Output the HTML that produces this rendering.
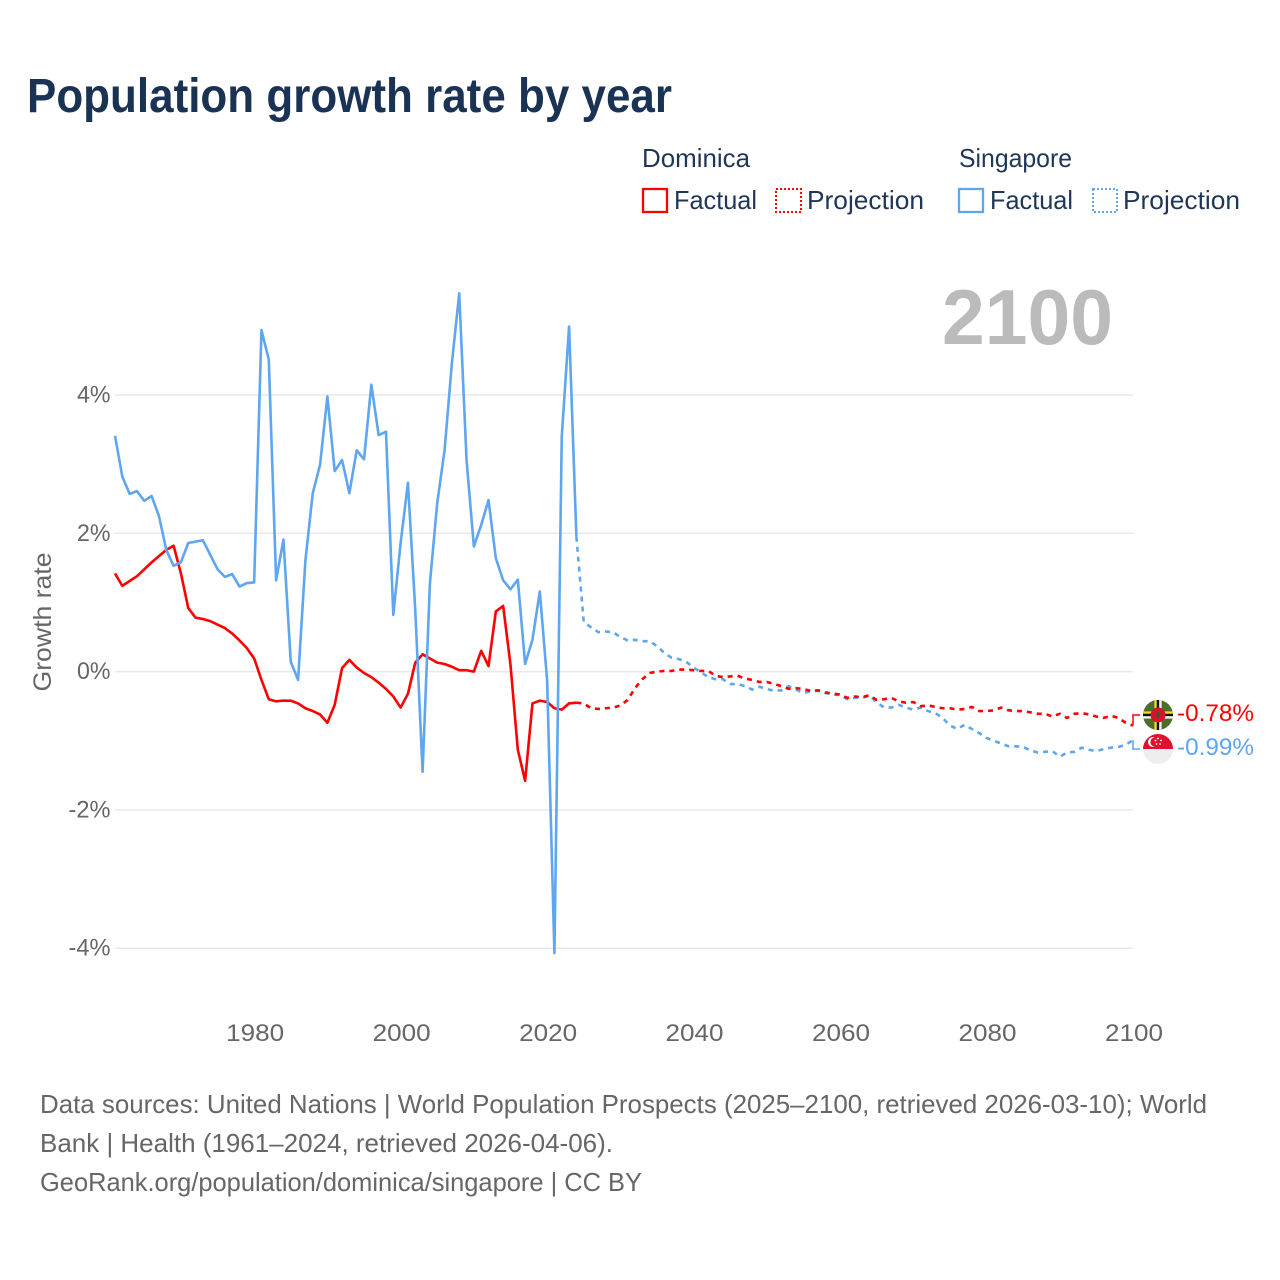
<!DOCTYPE html>
<html lang="en">
<head>
<meta charset="utf-8">
<title>Population growth rate by year</title>
<style>
html,body{margin:0;padding:0;background:#fff;width:1280px;height:1280px;overflow:hidden}
svg{display:block;font-family:"Liberation Sans",sans-serif}
</style>
</head>
<body>
<svg id="chart" xmlns="http://www.w3.org/2000/svg" width="1280" height="1280" viewBox="0 0 1280 1280">
  <defs>
    <clipPath id="flag-clip-dm"><circle cx="1158" cy="715" r="15"/></clipPath>
    <clipPath id="flag-clip-sg"><circle cx="1158" cy="749" r="15"/></clipPath>
  </defs>
  <text x="27" y="112" font-size="48" font-weight="700" fill="#1a3354" textLength="645" lengthAdjust="spacingAndGlyphs">Population growth rate by year</text>

  <g>
    <text x="642" y="167" font-size="26" fill="#1f3656" textLength="108" lengthAdjust="spacingAndGlyphs">Dominica</text>
    <rect x="643" y="189" width="24" height="23" fill="none" stroke="#ff0000" stroke-width="2.3"/>
    <text x="674" y="209" font-size="26" fill="#1f3656" textLength="83" lengthAdjust="spacingAndGlyphs">Factual</text>
    <rect x="776" y="189" width="25" height="23" fill="none" stroke="#ff0000" stroke-width="2" stroke-dasharray="2 2"/>
    <text x="807" y="209" font-size="26" fill="#1f3656" textLength="117" lengthAdjust="spacingAndGlyphs">Projection</text>
    <text x="959" y="167" font-size="26" fill="#1f3656" textLength="113" lengthAdjust="spacingAndGlyphs">Singapore</text>
    <rect x="959" y="189" width="24" height="23" fill="none" stroke="#5ea6ef" stroke-width="2.3"/>
    <text x="990" y="209" font-size="26" fill="#1f3656" textLength="83" lengthAdjust="spacingAndGlyphs">Factual</text>
    <rect x="1093" y="189" width="24" height="23" fill="none" stroke="#5ea6ef" stroke-width="2" stroke-dasharray="2 2"/>
    <text x="1123" y="209" font-size="26" fill="#1f3656" textLength="117" lengthAdjust="spacingAndGlyphs">Projection</text>
  </g>

  <text x="942" y="344" font-size="78" font-weight="700" fill="#bbbbbb" textLength="171" lengthAdjust="spacingAndGlyphs">2100</text>

  <text transform="translate(51,622) rotate(-90)" text-anchor="middle" font-size="25" fill="#666666" textLength="139" lengthAdjust="spacingAndGlyphs">Growth rate</text>

  <g id="grid"></g>
  <g id="y-ticks"></g>
  <g id="x-ticks"></g>
  <g id="series"></g>

  <g clip-path="url(#flag-clip-dm)">
    <rect x="1143" y="700" width="30" height="30" fill="#4d6d2a"/>
    <rect x="1154.4" y="700" width="2.4" height="30" fill="#f6d92c"/>
    <rect x="1156.8" y="700" width="2.4" height="30" fill="#111111"/>
    <rect x="1159.2" y="700" width="2.4" height="30" fill="#f5f5f5"/>
    <rect x="1143" y="711.4" width="30" height="2.4" fill="#f6d92c"/>
    <rect x="1143" y="713.8" width="30" height="2.4" fill="#111111"/>
    <rect x="1143" y="716.2" width="30" height="2.4" fill="#f5f5f5"/>
    <circle cx="1158" cy="715" r="7.5" fill="#d8122c"/>
    <ellipse cx="1158" cy="715" rx="1.5" ry="3.6" fill="#3d5a25"/>
  </g>
  <g clip-path="url(#flag-clip-sg)">
    <rect x="1143" y="734" width="30" height="15" fill="#e0102f"/>
    <rect x="1143" y="749" width="30" height="15" fill="#eeeeee"/>
    <circle cx="1153" cy="742" r="5" fill="#ffffff"/>
    <circle cx="1155" cy="742" r="4.6" fill="#e0102f"/>
    <g fill="#ffffff">
      <circle cx="1158" cy="738.5" r="0.9"/>
      <circle cx="1161" cy="740.5" r="0.9"/>
      <circle cx="1160" cy="744" r="0.9"/>
      <circle cx="1156.5" cy="744" r="0.9"/>
      <circle cx="1155.5" cy="740.5" r="0.9"/>
    </g>
  </g>

  <text x="1177" y="721" font-size="24" fill="#ff0000" textLength="77" lengthAdjust="spacingAndGlyphs">-0.78%</text>
  <text x="1177" y="755" font-size="24" fill="#5ea6ef" textLength="77" lengthAdjust="spacingAndGlyphs">-0.99%</text>

  <g>
    <text x="40" y="1113" font-size="26" fill="#666666" textLength="1167" lengthAdjust="spacingAndGlyphs">Data sources: United Nations | World Population Prospects (2025–2100, retrieved 2026-03-10); World</text>
    <text x="40" y="1152" font-size="26" fill="#666666" textLength="573" lengthAdjust="spacingAndGlyphs">Bank | Health (1961–2024, retrieved 2026-04-06).</text>
    <text x="40" y="1191" font-size="26" fill="#666666" textLength="602" lengthAdjust="spacingAndGlyphs">GeoRank.org/population/dominica/singapore | CC BY</text>
  </g>
</svg>
<script>
const firstYear = 1961;
const lastFactualYear = 2024;
const lastYear = 2100;
const yTickValues = [4, 2, 0, -2, -4];
const yTickLabels = ["4%", "2%", "0%", "-2%", "-4%"];
const xTickYears = [1980, 2000, 2020, 2040, 2060, 2080, 2100];

const dominicaFactual = [1.42,1.24,1.31,1.38,1.48,1.58,1.67,1.76,1.82,1.42,0.92,0.78,0.76,0.73,0.68,0.63,0.55,0.45,0.34,0.19,-0.12,-0.40,-0.43,-0.42,-0.42,-0.46,-0.53,-0.57,-0.62,-0.74,-0.48,0.05,0.17,0.06,-0.02,-0.08,-0.16,-0.25,-0.36,-0.52,-0.32,0.13,0.25,0.19,0.13,0.11,0.07,0.02,0.02,0.00,0.30,0.08,0.87,0.95,0.10,-1.13,-1.58,-0.46,-0.42,-0.44,-0.53,-0.55,-0.46,-0.45];
const dominicaProjection = [-0.46,-0.53,-0.54,-0.53,-0.52,-0.49,-0.41,-0.24,-0.11,-0.02,0.00,0.01,0.01,0.03,0.03,0.02,0.01,0.01,-0.06,-0.08,-0.07,-0.06,-0.10,-0.12,-0.15,-0.15,-0.18,-0.21,-0.25,-0.24,-0.25,-0.28,-0.27,-0.30,-0.32,-0.33,-0.38,-0.36,-0.37,-0.34,-0.41,-0.40,-0.38,-0.43,-0.45,-0.44,-0.50,-0.49,-0.51,-0.53,-0.53,-0.55,-0.54,-0.51,-0.57,-0.57,-0.56,-0.52,-0.56,-0.57,-0.57,-0.59,-0.61,-0.61,-0.65,-0.61,-0.67,-0.61,-0.60,-0.62,-0.65,-0.67,-0.64,-0.67,-0.74,-0.78];
const singaporeFactual = [3.41,2.82,2.57,2.61,2.47,2.54,2.25,1.76,1.53,1.58,1.86,1.88,1.90,1.69,1.48,1.37,1.41,1.23,1.28,1.29,4.94,4.51,1.32,1.91,0.14,-0.12,1.61,2.58,2.99,3.98,2.90,3.06,2.58,3.20,3.07,4.15,3.42,3.47,0.82,1.86,2.73,0.89,-1.45,1.28,2.44,3.20,4.46,5.47,3.06,1.81,2.12,2.48,1.64,1.32,1.19,1.33,0.11,0.46,1.16,-0.12,-4.07,3.40,4.99,1.95];
const singaporeProjection = [0.72,0.64,0.57,0.58,0.57,0.50,0.45,0.46,0.44,0.44,0.37,0.27,0.20,0.18,0.14,0.06,-0.01,-0.08,-0.11,-0.11,-0.18,-0.18,-0.21,-0.26,-0.22,-0.25,-0.28,-0.27,-0.21,-0.26,-0.31,-0.28,-0.28,-0.31,-0.33,-0.34,-0.40,-0.38,-0.38,-0.35,-0.44,-0.52,-0.52,-0.48,-0.52,-0.55,-0.52,-0.57,-0.60,-0.67,-0.78,-0.83,-0.77,-0.83,-0.89,-0.96,-1.00,-1.04,-1.08,-1.08,-1.09,-1.14,-1.17,-1.16,-1.15,-1.23,-1.17,-1.16,-1.10,-1.13,-1.15,-1.12,-1.10,-1.09,-1.06,-0.99];

const SVGNS = "http://www.w3.org/2000/svg";
const plot = { left: 115, right: 1133, zero: 671.6, pxPerPercent: 69.15 };
function xScale(year) {
  return plot.left + (year - firstYear) * (plot.right - plot.left) / (lastYear - firstYear);
}
function yScale(value) {
  return plot.zero - value * plot.pxPerPercent;
}
function linePath(startYear, values) {
  return values.map(function (v, i) {
    return (i ? "L" : "M") + xScale(startYear + i).toFixed(2) + " " + yScale(v).toFixed(2);
  }).join("");
}

const gridGroup = document.getElementById("grid");
const yTickGroup = document.getElementById("y-ticks");
const xTickGroup = document.getElementById("x-ticks");
const seriesGroup = document.getElementById("series");

yTickValues.forEach(function (v, i) {
  const line = document.createElementNS(SVGNS, "line");
  line.setAttribute("x1", plot.left);
  line.setAttribute("x2", plot.right);
  line.setAttribute("y1", yScale(v));
  line.setAttribute("y2", yScale(v));
  line.setAttribute("stroke", "#e9e9e9");
  line.setAttribute("stroke-width", "1.5");
  
  
  gridGroup.appendChild(line);

  const label = document.createElementNS(SVGNS, "text");
  label.setAttribute("x", 110.5);
  label.setAttribute("y", yScale(v) + 7.5);
  label.setAttribute("text-anchor", "end");
  label.setAttribute("font-size", "24.5");
  label.setAttribute("textLength", yTickLabels[i].length === 2 ? "33.5" : "42");
  label.setAttribute("lengthAdjust", "spacingAndGlyphs");
  label.setAttribute("fill", "#666666");
  label.textContent = yTickLabels[i];
  
  
  yTickGroup.appendChild(label);
});

xTickYears.forEach(function (year) {
  const label = document.createElementNS(SVGNS, "text");
  label.setAttribute("x", xScale(year) + 1);
  label.setAttribute("y", 1041);
  label.setAttribute("text-anchor", "middle");
  label.setAttribute("font-size", "24.5");
  label.setAttribute("textLength", "58");
  label.setAttribute("lengthAdjust", "spacingAndGlyphs");
  label.setAttribute("fill", "#666666");
  label.textContent = String(year);
  
  
  xTickGroup.appendChild(label);
});

function addLine(startYear, values, color, dashed, seriesName) {
  const path = document.createElementNS(SVGNS, "path");
  path.setAttribute("d", linePath(startYear, values));
  path.setAttribute("fill", "none");
  path.setAttribute("stroke", color);
  path.setAttribute("stroke-width", "2.6");
  path.setAttribute("stroke-linejoin", "round");
  if (dashed) {
    path.setAttribute("stroke-dasharray", "5 5");
  }
  
  
  seriesGroup.appendChild(path);
}

function addConnector(value, labelY, color, connectorName) {
  const x = xScale(lastYear);
  const path = document.createElementNS(SVGNS, "path");
  path.setAttribute("d", "M" + x + " " + yScale(value) + "V" + labelY + "H" + (x + 7));
  path.setAttribute("fill", "none");
  path.setAttribute("stroke", color);
  path.setAttribute("stroke-width", "1.5");
  
  
  seriesGroup.appendChild(path);
}

const redColor = "#ff0000";
const blueColor = "#5ea6ef";
const projStart = lastFactualYear;
addLine(firstYear, dominicaFactual, redColor, false, "dominica-factual-line");
addLine(firstYear, singaporeFactual, blueColor, false, "singapore-factual-line");
addLine(projStart, [singaporeFactual[singaporeFactual.length - 1]].concat(singaporeProjection), blueColor, true, "singapore-projection-line");
addLine(projStart, [dominicaFactual[dominicaFactual.length - 1]].concat(dominicaProjection), redColor, true, "dominica-projection-line");
addConnector(dominicaProjection[dominicaProjection.length - 1], 715, redColor, "dominica-end-connector");
addConnector(singaporeProjection[singaporeProjection.length - 1], 749, blueColor, "singapore-end-connector");
</script>
</body>
</html>
